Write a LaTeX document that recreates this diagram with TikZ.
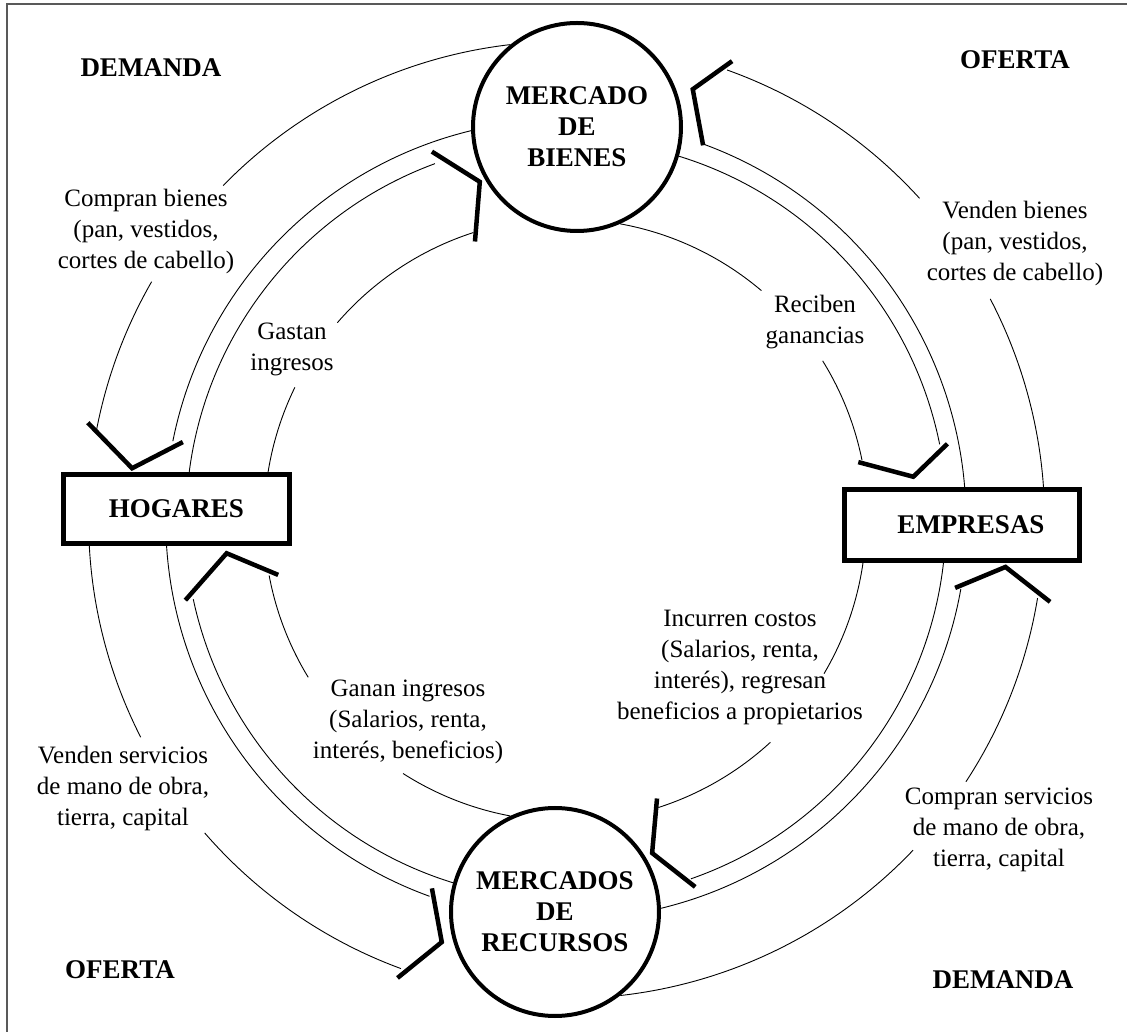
\documentclass[tikz,border=0pt]{standalone}
\usepackage{fontspec}
\setmainfont{Liberation Serif}
\usepackage{tikz}

\begin{document}
\begin{tikzpicture}[x=1pt, y=1pt,
    mercado/.style={circle, draw, line width=4pt, fill=white, minimum size=208pt,
                    inner sep=0pt, align=center, font=\fontsize{27}{31}\selectfont\bfseries},
    caja/.style={rectangle, draw, line width=5pt, fill=white, inner sep=0pt,
                 font=\fontsize{27}{31}\selectfont\bfseries},
    etiqueta/.style={align=center, inner sep=1pt, font=\fontsize{25}{31}\selectfont},
    titulo/.style={font=\fontsize{27}{31}\selectfont\bfseries},
    borde/.style={line width=0.9pt},
    punta/.style={line width=4.5pt, miter limit=4}
]
\useasboundingbox (-566,-512) rectangle (561,520);
\draw[black!65, line width=2pt] (-559,-512) -- (-559,516) -- (561,516);

\node[mercado] (bienes)   at (11,393)   {MERCADO\\DE\\BIENES};
\node[mercado] (recursos) at (-11,-392) {MERCADOS\\DE\\RECURSOS};
\node[caja, minimum width=226pt, minimum height=69pt] (hogares)  at (-389.5,11) {HOGARES};
\node[caja, minimum width=235pt, minimum height=71pt] (empresas) at (396,-5) {\hspace*{18pt}EMPRESAS};

% bienes -> hogares
\draw[borde] (bienes.129) arc[start angle=96.6, end angle=135.7, radius=478]
    (150.1:478) arc[start angle=150.1, end angle=169, radius=478];
\draw[borde] (bienes.182) arc[start angle=103.6, end angle=168.7, radius=400];
\draw[punta] (168.5:488) -- (173.2:437) -- (168.5:391);

% hogares -> bienes
\draw[borde] (hogares.71) arc[start angle=172.7, end angle=110.2, radius=380];
\draw[borde] (hogares.22) arc[start angle=170.9, end angle=154, radius=302]
    (139.2:302) arc[start angle=139.2, end angle=107.9, radius=302];
\draw[punta] (110:392) -- (104.3:349) -- (108.1:293);

% empresas -> bienes
\draw[borde] (empresas.25) arc[start angle=4, end angle=27.6, radius=478]
    (42.3:478) arc[start angle=42.3, end angle=70.3, radius=478];
\draw[borde] (empresas.86) arc[start angle=4.7, end angle=69.9, radius=400];
\draw[punta] (70.1:488) -- (73.6:449) -- (69.9:399);

% bienes -> empresas
\draw[borde] (bienes.344) arc[start angle=72.9, end angle=11.4, radius=380];
\draw[borde] (bienes.294) arc[start angle=79.7, end angle=49.7, radius=302]
    (31.8:302) arc[start angle=31.8, end angle=11.4, radius=302];
\draw[punta] (11.3:389) -- (7.1:350) -- (11.2:298);

% recursos -> empresas
\draw[borde] (recursos.308) arc[start angle=-83.6, end angle=-43.6, radius=478]
    (-33.2:478) arc[start angle=-33.2, end angle=-9.4, radius=478];
\draw[borde] (recursos.2) arc[start angle=-76.4, end angle=-10, radius=400];
\draw[punta] (-9.9:395) -- (-6.1:442) -- (-9.6:491);

% empresas -> recursos
\draw[borde] (empresas.244) arc[start angle=-6.5, end angle=-70.8, radius=380];
\draw[borde] (empresas.201) arc[start angle=-8.2, end angle=-30.6, radius=302]
    (-47.4:302) arc[start angle=-47.4, end angle=-72.2, radius=302];
\draw[punta] (-71.9:293) -- (-75.5:344) -- (-70.6:389);

% hogares -> recursos
\draw[borde] (hogares.203) arc[start angle=183.1, end angle=207, radius=478]
    (220.9:478) arc[start angle=220.9, end angle=249.8, radius=478];
\draw[borde] (hogares.255) arc[start angle=183.7, end angle=250.1, radius=400];
\draw[punta] (250:392) -- (253.6:440) -- (249.8:488);

% recursos -> hogares
\draw[borde] (recursos.164) arc[start angle=252.9, end angle=192.1, radius=380];
\draw[borde] (recursos.115) arc[start angle=259.4, end angle=237.4, radius=302]
    (211.4:302) arc[start angle=211.4, end angle=190.6, radius=302];
\draw[punta] (191.9:389) -- (185.6:341) -- (190.8:293);

\node[titulo] (demanda1) at (-415,452)  {DEMANDA};
\node[titulo] (oferta1)  at (449,460)   {OFERTA};
\node[titulo] (oferta2)  at (-446,-450) {OFERTA};
\node[titulo] (demanda2) at (437,-460)  {DEMANDA};

\node[etiqueta] (compran1) at (-420,289)  {Compran bienes\\(pan, vestidos,\\cortes de cabello)};
\node[etiqueta] (gastan)   at (-274,171)  {Gastan\\ingresos};
\node[etiqueta] (reciben)  at (249,198)   {Reciben\\ganancias};
\node[etiqueta] (venden1)  at (449,277)   {Venden bienes\\(pan, vestidos,\\cortes de cabello)};
\node[etiqueta] (incurren) at (174,-147)  {Incurren costos\\(Salarios, renta,\\interés), regresan\\beneficios a propietarios};
\node[etiqueta] (ganan)    at (-158,-202) {Ganan ingresos\\(Salarios, renta,\\interés, beneficios)};
\node[etiqueta] (venden2)  at (-443,-268) {Venden servicios\\de mano de obra,\\tierra, capital};
\node[etiqueta] (compran2) at (433,-310)  {Compran servicios\\de mano de obra,\\tierra, capital};

\end{tikzpicture}
\end{document}
